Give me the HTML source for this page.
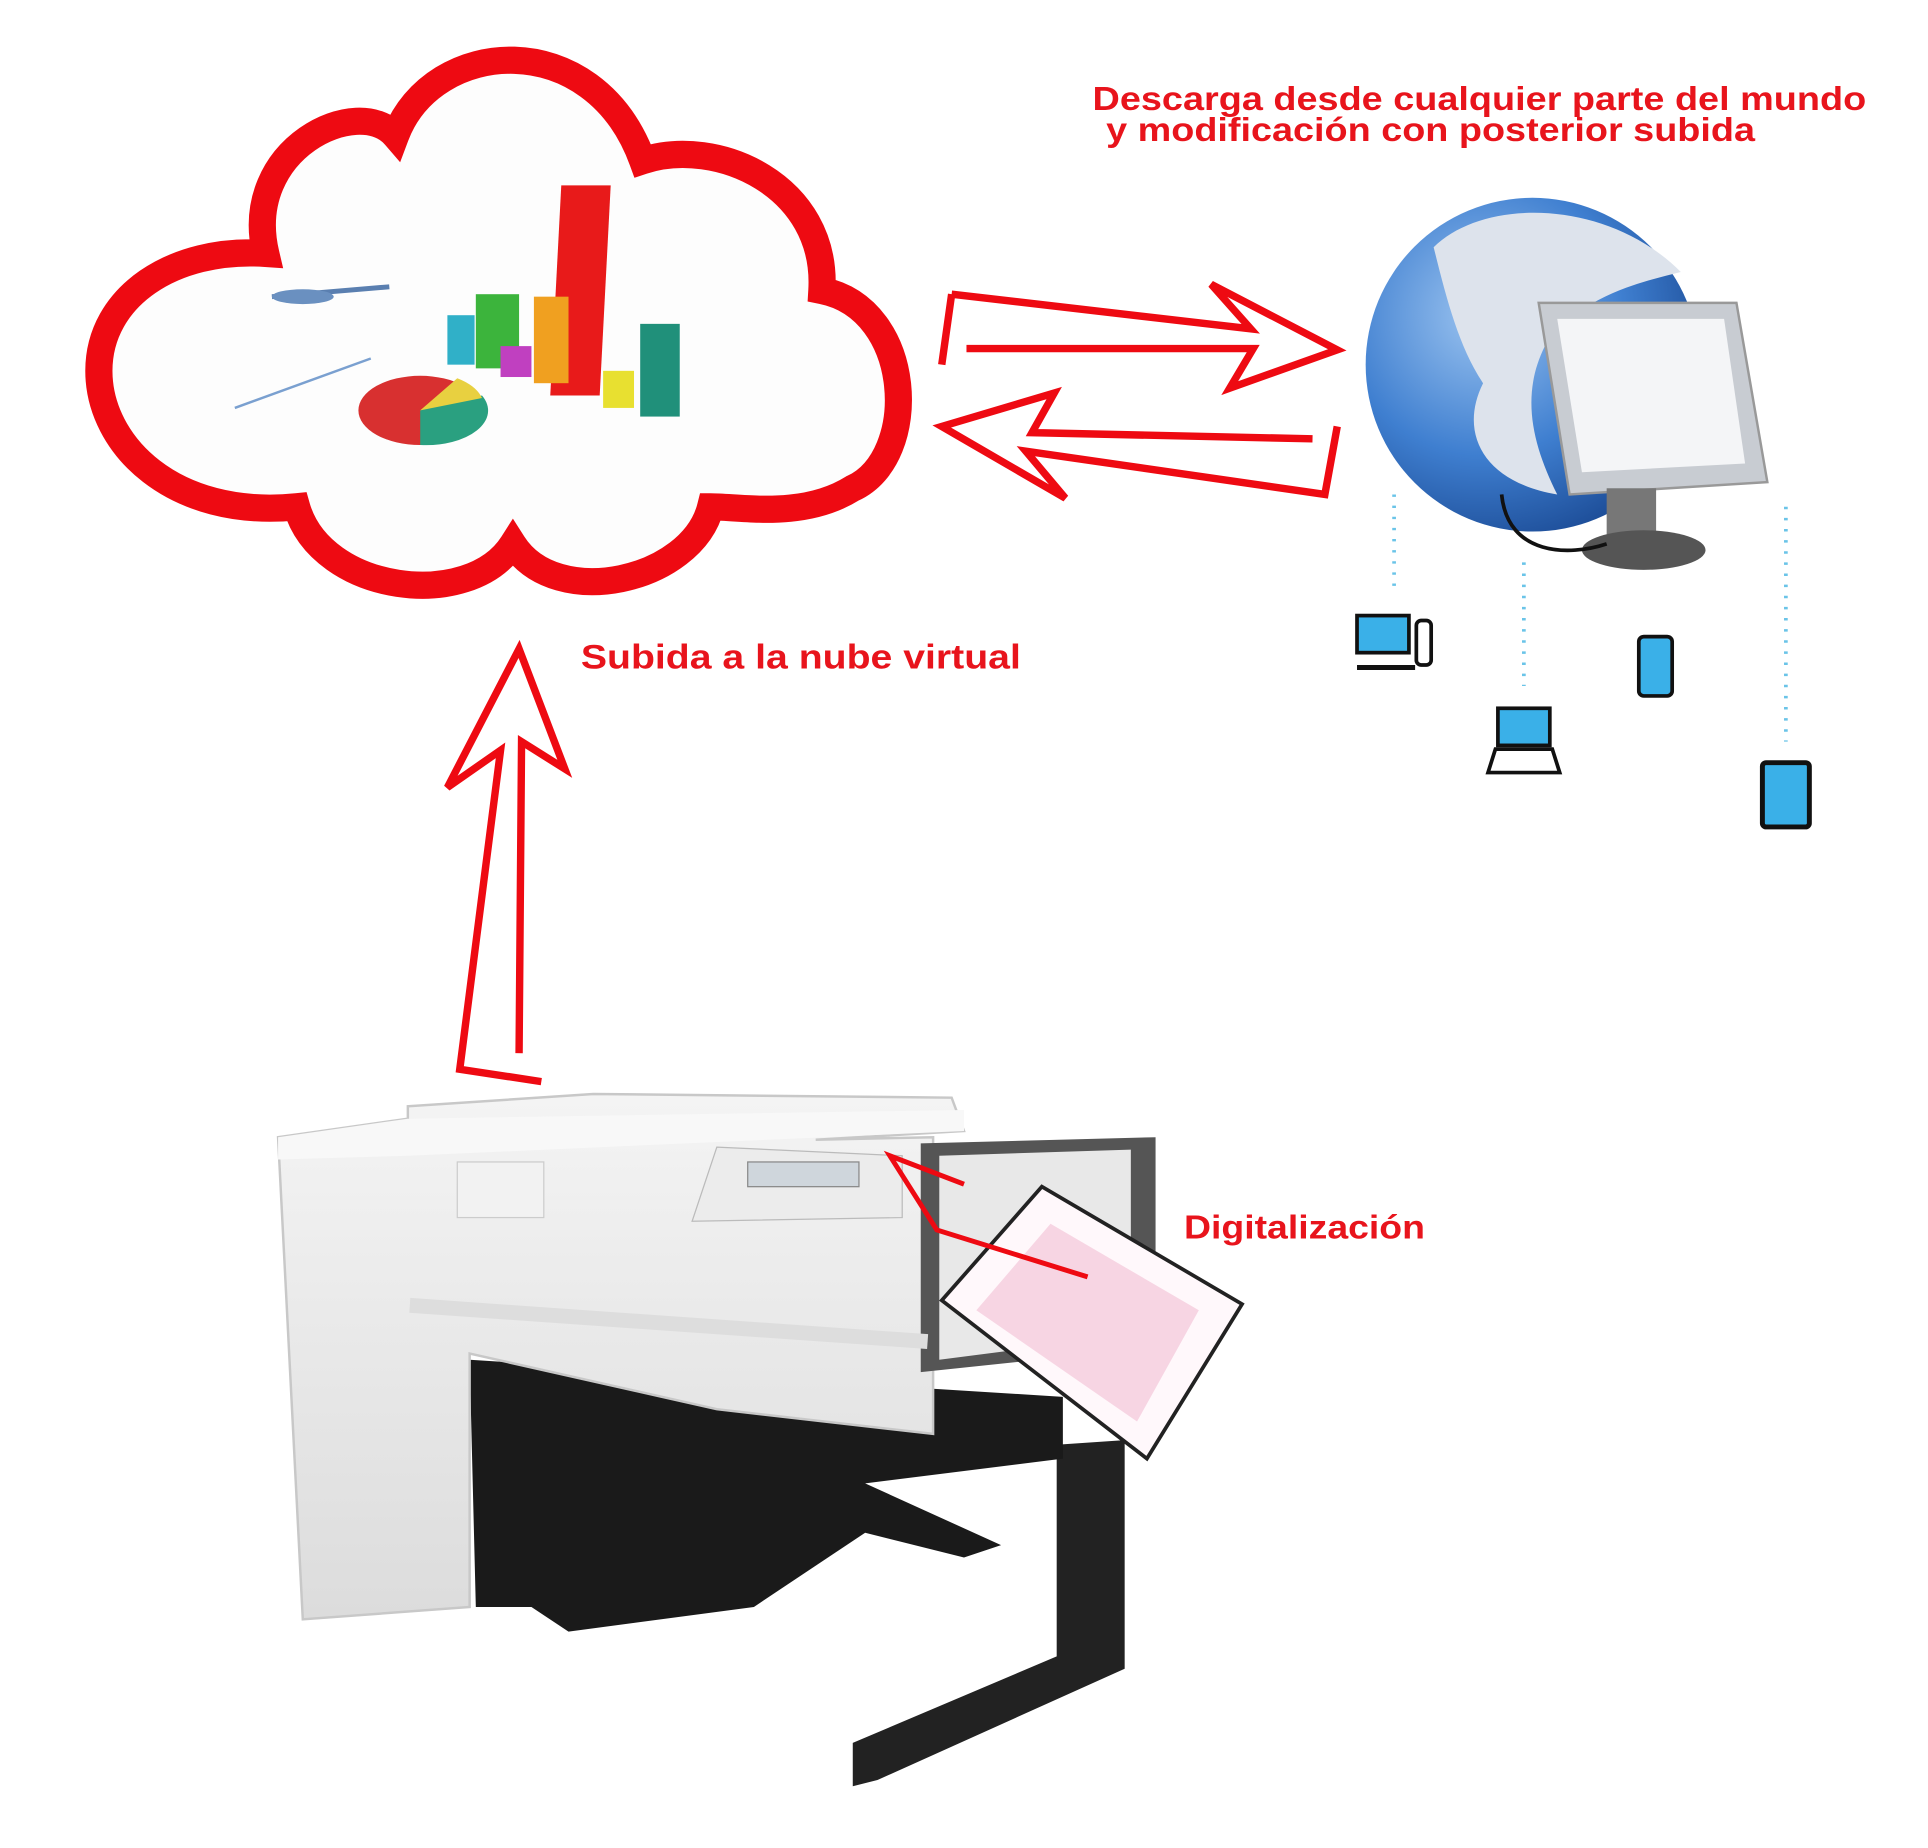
<!DOCTYPE html>
<html><head><meta charset="utf-8"><style>
html,body{margin:0;padding:0;background:#fff;}
svg{display:block}
text{font-family:"Liberation Sans","DejaVu Sans",sans-serif;font-weight:bold;fill:#e8141c}
</style></head><body>
<svg width="1928" height="1848" viewBox="0 0 1560 1495" preserveAspectRatio="none" xmlns="http://www.w3.org/2000/svg">
<defs>
<radialGradient id="g" cx="0.35" cy="0.35" r="0.7"><stop offset="0" stop-color="#9cc4f0"/><stop offset="0.6" stop-color="#3f7fd0"/><stop offset="1" stop-color="#1e4f9a"/></radialGradient>
<linearGradient id="pw" x1="0" y1="0" x2="0" y2="1"><stop offset="0" stop-color="#f4f4f4"/><stop offset="1" stop-color="#dcdcdc"/></linearGradient>
</defs>
<path d="M215,205 C195,120 290,75 320,110 C350,30 480,20 520,130 C580,110 670,150 665,235 C740,250 745,370 690,395 C650,420 600,410 575,410 C560,470 450,495 415,440 C380,495 260,480 240,410 C140,420 80,360 80,300 C80,240 140,200 215,205 Z" fill="#fdfdfd" stroke="#ee0a12" stroke-width="22"/>
<rect x="462" y="150" width="40" height="170" fill="#e81a1a" transform="skewX(-3)"/>
<rect x="432" y="240" width="28" height="70" fill="#f0a020"/>
<rect x="385" y="238" width="35" height="60" fill="#3cb43c"/>
<rect x="362" y="255" width="22" height="40" fill="#30b0c8"/>
<rect x="405" y="280" width="25" height="25" fill="#c040c0"/>
<rect x="488" y="300" width="25" height="30" fill="#e8e030"/>
<rect x="518" y="262" width="32" height="75" fill="#20907a"/>
<ellipse cx="340" cy="332" rx="50" ry="28" fill="#d83030"/>
<path d="M340,332 L390,320 A50,28 0 0 1 340,360 Z" fill="#2aa080"/>
<path d="M340,332 L370,306 A50,28 0 0 1 390,322 Z" fill="#e8d040"/>
<line x1="190" y1="330" x2="300" y2="290" stroke="#7aa0d0" stroke-width="2"/>
<line x1="220" y1="240" x2="315" y2="232" stroke="#5a7fb0" stroke-width="4"/>
<ellipse cx="245" cy="240" rx="25" ry="6" fill="#6a90c0"/>
<g fill="none" stroke="#ee0a12" stroke-width="6" stroke-linejoin="miter">
<path d="M770,238 L1012,266 L980,230 L1082,283 L995,314 L1014,282 L782,282 M770,238 L762,295"/>
<path d="M1062,355 L835,350 L853,318 L762,345 L862,403 L830,365 L1072,400 L1082,345"/>
<path d="M438,875 L372,865 L405,607 L362,637 L420,525 L457,622 L422,600 L420,852"/>
</g>
<text x="884" y="89" font-size="27" textLength="626" lengthAdjust="spacingAndGlyphs">Descarga desde cualquier parte del mundo</text>
<text x="895" y="114" font-size="27" textLength="525" lengthAdjust="spacingAndGlyphs">y modificación con posterior subida</text>
<text x="470" y="541" font-size="28" textLength="356" lengthAdjust="spacingAndGlyphs">Subida a la nube virtual</text>
<text x="958" y="1002" font-size="27" textLength="195" lengthAdjust="spacingAndGlyphs">Digitalización</text>
<circle cx="1240" cy="295" r="135" fill="url(#g)"/>
<path d="M1160,200 C1200,160 1300,160 1360,220 C1320,230 1280,240 1250,280 C1230,320 1240,360 1260,400 C1200,390 1180,350 1200,310 C1180,280 1170,240 1160,200Z" fill="#dde3ec"/>
<path d="M1245,245 L1405,245 L1430,390 L1270,400 Z" fill="#c8ccd2" stroke="#999" stroke-width="2"/>
<path d="M1260,258 L1395,258 L1412,375 L1280,382 Z" fill="#f4f5f7"/>
<rect x="1300" y="395" width="40" height="40" fill="#777"/>
<ellipse cx="1330" cy="445" rx="50" ry="16" fill="#555"/>
<path d="M1215,400 C1220,450 1270,450 1300,440" stroke="#111" stroke-width="3" fill="none"/>
<g stroke="#6ac4e8" stroke-width="3" stroke-dasharray="2 7" fill="none">
<line x1="1128" y1="400" x2="1128" y2="480"/><line x1="1233" y1="455" x2="1233" y2="555"/><line x1="1445" y1="410" x2="1445" y2="600"/>
</g>
<rect x="1098" y="498" width="42" height="30" fill="#3ab0e8" stroke="#111" stroke-width="3"/>
<path d="M1098,540 L1145,540" stroke="#111" stroke-width="4"/>
<rect x="1146" y="502" width="12" height="36" rx="4" fill="#fff" stroke="#111" stroke-width="3"/>
<rect x="1212" y="573" width="42" height="30" fill="#3ab0e8" stroke="#111" stroke-width="3"/>
<path d="M1210,606 L1256,606 L1262,625 L1204,625 Z" fill="#fff" stroke="#111" stroke-width="3"/>
<rect x="1326" y="515" width="27" height="48" rx="4" fill="#3ab0e8" stroke="#111" stroke-width="3"/>
<rect x="1426" y="617" width="38" height="52" rx="3" fill="#3ab0e8" stroke="#111" stroke-width="4"/>
<path d="M690,1180 L855,1180 L855,1340 L690,1410 L690,1445 L710,1440 L910,1350 L910,1165 Z" fill="#222"/>
<path d="M380,1100 L860,1130 L860,1180 L700,1200 L810,1250 L780,1260 L700,1240 L610,1300 L460,1320 L430,1300 L385,1300 Z" fill="#1a1a1a"/>
<path d="M225,920 L330,905 L330,895 L480,885 L770,888 L780,915 L660,922 L755,920 L755,1160 L580,1140 L380,1095 L380,1300 L245,1310 Z" fill="url(#pw)" stroke="#c8c8c8" stroke-width="2"/>
<path d="M225,920 L330,905 L780,898 L780,915 L330,935 L225,938Z" fill="#f8f8f8"/>
<path d="M745,925 L935,920 L935,1090 L745,1110 Z" fill="#555"/>
<path d="M760,935 L915,930 L915,1080 L760,1100 Z" fill="#e8e8e8"/>
<path d="M580,928 L730,935 L730,985 L560,988 Z" fill="#ececec" stroke="#bbb"/>
<rect x="605" y="940" width="90" height="20" fill="#cfd6dc" stroke="#888"/>
<rect x="370" y="940" width="70" height="45" fill="#f2f2f2" stroke="#ccc"/>
<rect x="332" y="1050" width="420" height="12" fill="#ddd" transform="rotate(4 332 1050)"/>
<path d="M762,1052 L843,960 L1005,1055 L928,1180 Z" fill="#fff8fb" stroke="#222" stroke-width="3"/>
<path d="M790,1060 L850,990 L970,1060 L920,1150 Z" fill="#f3c6d8" opacity="0.7"/>
<path d="M880,1033 L758,995 L720,935 L780,958" fill="none" stroke="#ee0a12" stroke-width="4"/>
</svg>
</body></html>
